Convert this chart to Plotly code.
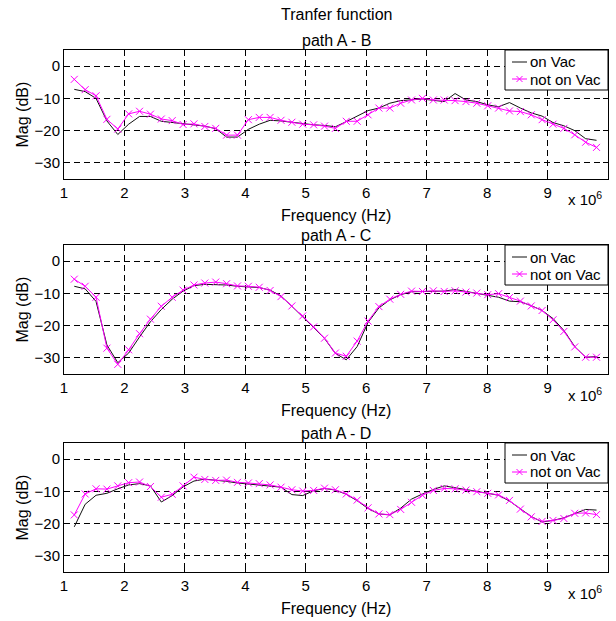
import plotly.graph_objects as go

# Frequency grid in units of 1e6 Hz
freq_mhz = [1.17, 1.35, 1.53, 1.71, 1.89, 2.07, 2.25, 2.43, 2.61, 2.79,
            2.97, 3.15, 3.33, 3.51, 3.69, 3.87, 4.05, 4.23, 4.41, 4.59,
            4.77, 4.95, 5.13, 5.31, 5.49, 5.67, 5.85, 6.03, 6.21, 6.39,
            6.57, 6.75, 6.93, 7.11, 7.29, 7.47, 7.65, 7.83, 8.01, 8.19,
            8.37, 8.55, 8.73, 8.91, 9.09, 9.27, 9.45, 9.63, 9.81]

# path A - B magnitude (dB)
ab_on_vac = [-7.2, -7.9, -10.0, -17.0, -21.2, -18.0, -15.6, -15.6, -17.1, -17.5,
             -18.0, -18.3, -18.6, -19.4, -22.0, -22.0, -19.6, -18.0, -16.8, -17.0,
             -17.4, -18.0, -18.2, -18.4, -18.8, -17.2, -15.5, -13.8, -13.0, -11.5,
             -10.7, -10.5, -10.2, -10.6, -11.0, -8.5, -10.5, -11.0, -12.0, -12.6,
             -11.3, -13.0, -14.5, -15.5, -17.5, -18.5, -20.0, -22.5, -23.0]
ab_not_on_vac = [-4.1, -7.3, -9.2, -16.5, -19.5, -14.8, -14.0, -14.9, -16.4, -16.9,
                 -18.1, -17.9, -18.7, -19.3, -21.4, -21.4, -16.6, -15.9, -15.9, -16.8,
                 -17.4, -18.0, -18.2, -18.6, -19.3, -17.1, -17.1, -15.1, -13.0, -13.0,
                 -11.5, -10.5, -10.0, -10.5, -10.5, -10.7, -11.0, -11.5, -12.3, -13.0,
                 -13.9, -14.1, -15.1, -16.6, -18.0, -19.3, -21.3, -23.6, -25.2]

# path A - C magnitude (dB)
ac_on_vac = [-7.8, -8.6, -12.5, -26.0, -31.5, -28.5, -23.5, -18.8, -15.0, -11.8,
             -9.3, -7.6, -7.2, -7.2, -7.4, -7.8, -8.0, -8.2, -9.0, -10.8,
             -14.0, -17.2, -20.6, -24.0, -28.6, -30.6, -26.5, -19.0, -14.5, -12.0,
             -10.4, -9.5, -9.5, -9.4, -9.3, -8.8, -9.4, -9.9, -10.5, -11.2,
             -12.4, -12.6, -13.8, -15.3, -17.8, -21.5, -26.5, -29.8, -29.6]
ac_not_on_vac = [-5.6, -7.8, -11.2, -27.0, -32.0, -27.5, -22.5, -18.0, -14.0, -11.2,
                 -9.0, -7.4, -6.8, -6.5, -7.0, -7.7, -7.8, -8.1, -9.1, -11.0,
                 -13.9, -17.0, -20.4, -23.9, -28.5, -29.5, -24.8, -18.6, -14.1, -11.8,
                 -10.3, -9.3, -9.4, -9.2, -9.4, -9.2, -9.6, -9.9, -10.4, -10.1,
                 -11.3, -12.4, -13.9, -15.3, -18.2, -21.8, -26.6, -29.8, -29.8]

# path A - D magnitude (dB)
ad_on_vac = [-21.0, -14.0, -11.2, -10.6, -9.2, -8.0, -7.6, -8.3, -13.3, -11.3,
             -8.6, -6.8, -6.2, -6.5, -6.9, -7.4, -7.7, -7.9, -8.2, -8.7,
             -11.0, -11.3, -9.8, -9.1, -9.6, -10.9, -12.9, -15.3, -17.0, -17.3,
             -15.2, -12.4, -10.8, -9.4, -8.3, -8.8, -9.5, -10.0, -10.6, -11.2,
             -13.0, -15.5, -17.8, -19.5, -19.0, -18.2, -16.9, -15.6, -15.8]
ad_not_on_vac = [-17.3, -10.8, -9.2, -9.3, -8.3, -7.3, -7.1, -8.5, -11.8, -10.9,
                 -8.3, -5.6, -6.3, -6.6, -6.5, -7.2, -7.4, -7.6, -8.0, -8.7,
                 -9.5, -9.9, -9.7, -9.0, -9.5, -10.8, -12.7, -15.1, -17.0, -17.2,
                 -15.6, -13.4, -11.2, -9.7, -9.1, -9.2, -9.6, -10.1, -10.6, -11.1,
                 -12.8, -15.5, -17.9, -19.3, -19.0, -18.4, -16.8, -16.7, -17.2]

panel_titles = ["path A - B", "path A - C", "path A - D"]
series_names = ["on Vac", "not on Vac"]
x_ticks = [1, 2, 3, 4, 5, 6, 7, 8, 9]
y_ticks = [-30, -20, -10, 0]

panels = [(ab_on_vac, ab_not_on_vac), (ac_on_vac, ac_not_on_vac), (ad_on_vac, ad_not_on_vac)]

ON_COLOR = "#111111"
OFF_COLOR = "#ff00ff"

W, H = 616, 621
M_L, M_R, M_T, M_B = 64, 8, 50, 49
PLOT_H = H - M_T - M_B
PLOT_W = W - M_L - M_R
# vertical pixel extents (top, bottom) of each axes box
boxes = [(50, 179), (245, 374), (443, 572)]


def py(px):
    return (H - M_B - px) / PLOT_H


def pxx(px):
    return (px - M_L) / PLOT_W


FONT = dict(family="Liberation Sans, Arial, sans-serif", size=16, color="black")
TICK_FONT = dict(FONT, size=15)
LEG_FONT = dict(FONT, size=15)

fig = go.Figure()
layout = dict(
    width=W, height=H,
    margin=dict(l=M_L, r=M_R, t=M_T, b=M_B),
    paper_bgcolor="white", plot_bgcolor="white",
    font=FONT, showlegend=False,
)

annotations = [dict(text="Tranfer function", x=0.5, y=py(14), xref="paper", yref="paper",
                    showarrow=False, font=FONT, xanchor="center", yanchor="middle")]
shapes = []

for i, ((on_vals, off_vals), title, (top, bot)) in enumerate(zip(panels, panel_titles, boxes)):
    n = "" if i == 0 else str(i + 1)
    xa, ya = "x" + n, "y" + n
    fig.add_trace(go.Scatter(x=freq_mhz, y=on_vals, mode="lines", name=series_names[0],
                             line=dict(color=ON_COLOR, width=1), xaxis=xa, yaxis=ya))
    fig.add_trace(go.Scatter(x=freq_mhz, y=off_vals, mode="lines+markers", name=series_names[1],
                             line=dict(color=OFF_COLOR, width=1),
                             marker=dict(symbol="x-thin-open", size=7,
                                         line=dict(color=OFF_COLOR, width=1)),
                             xaxis=xa, yaxis=ya))
    common = dict(showline=True, linecolor="black", linewidth=1, mirror="ticks",
                  ticks="inside", ticklen=5, tickcolor="black",
                  showgrid=True, gridcolor="black", gridwidth=1, griddash="6px,4px",
                  zeroline=False, tickfont=TICK_FONT)
    layout["xaxis" + n] = dict(common, range=[1, 10], tickvals=x_ticks,
                               ticktext=[str(t) for t in x_ticks],
                               anchor=ya, domain=[0, 1])
    layout["yaxis" + n] = dict(common, range=[-35, 5], tickvals=y_ticks,
                               anchor=xa, domain=[py(bot), py(top)])

    # legend box in the upper right corner of the axes
    lx0, lx1 = 505, 608
    row1, row2 = 12, 29
    shapes.append(dict(type="rect", xref="paper", yref="paper", layer="above",
                       x0=pxx(lx0), x1=pxx(lx1), y0=py(top + 40), y1=py(top),
                       fillcolor="white", line=dict(color="black", width=1)))
    for row, color in ((row1, ON_COLOR), (row2, OFF_COLOR)):
        shapes.append(dict(type="line", xref="paper", yref="paper", layer="above",
                           x0=pxx(512), x1=pxx(527), y0=py(top + row), y1=py(top + row),
                           line=dict(color=color, width=1)))
    cx, cy = 519.5, top + row2
    for dx in (-3, 3):
        shapes.append(dict(type="line", xref="paper", yref="paper", layer="above",
                           x0=pxx(cx - 3), x1=pxx(cx + 3), y0=py(cy - dx), y1=py(cy + dx),
                           line=dict(color=OFF_COLOR, width=1)))
    for row, name in ((row1, series_names[0]), (row2, series_names[1])):
        annotations.append(dict(text=name, x=pxx(529), y=py(top + row), xref="paper", yref="paper",
                                showarrow=False, font=LEG_FONT, xanchor="left", yanchor="middle",
                                borderpad=0))

    annotations += [
        dict(text=title, x=0.5, y=py(top - 10), xref="paper", yref="paper",
             showarrow=False, font=FONT, xanchor="center", yanchor="middle"),
        dict(text="Frequency (Hz)", x=0.5, y=py(bot + 36), xref="paper", yref="paper",
             showarrow=False, font=FONT, xanchor="center", yanchor="middle"),
        dict(text="x 10<sup>6</sup>", x=pxx(604), y=py(bot + 20), xref="paper", yref="paper",
             showarrow=False, font=dict(FONT, size=15), xanchor="right", yanchor="middle"),
        dict(text="Mag (dB)", x=pxx(22), y=py((top + bot) / 2), xref="paper", yref="paper",
             showarrow=False, font=FONT, xanchor="center", yanchor="middle", textangle=-90),
    ]

layout["annotations"] = annotations
layout["shapes"] = shapes
fig.update_layout(**layout)
fig.write_html("out.html")
